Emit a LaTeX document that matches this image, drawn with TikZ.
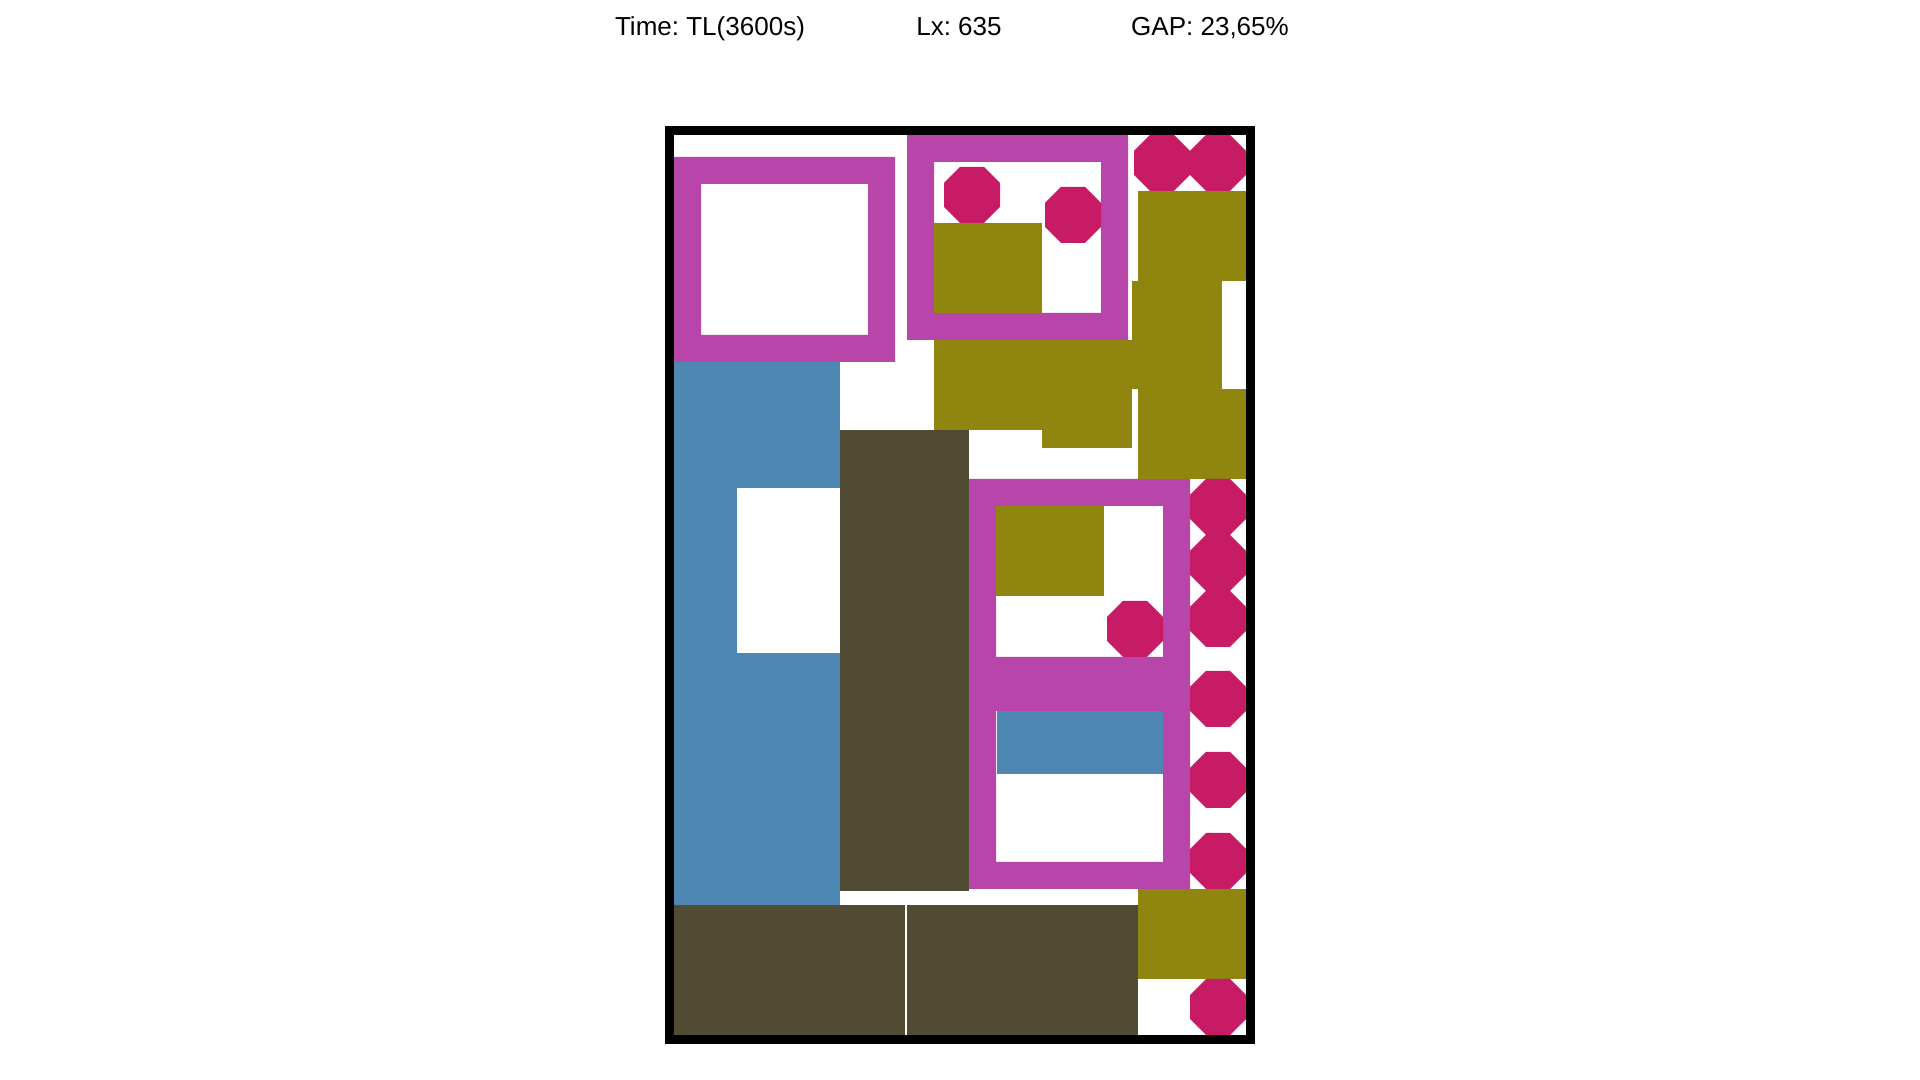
\documentclass[tikz,border=0pt]{standalone}
\usepackage{fontspec}
\setmainfont{Liberation Sans}
\usepackage{tikz}
\usetikzlibrary{positioning}
\frenchspacing

\definecolor{framec}{HTML}{B846AA}
\definecolor{octac}{HTML}{C71B65}
\definecolor{olivec}{HTML}{8F850F}
\definecolor{bluec}{HTML}{4F87B3}
\definecolor{brownc}{HTML}{514B34}

% octagon, top left corner at (#1,#2), 56 wide
\newcommand{\octa}[2]{%
  \fill[octa] (#1+16,#2) -- (#1+40,#2) -- (#1+56,#2+16) -- (#1+56,#2+40)
    -- (#1+40,#2+56) -- (#1+16,#2+56) -- (#1,#2+40) -- (#1,#2+16) -- cycle;}
% hollow frame, top left corner at (#1,#2)
\newcommand{\frameat}[2]{%
  \fill[frm] (#1,#2) rectangle (#1+221,#2+205) (#1+27,#2+27) rectangle (#1+194,#2+178);}

\begin{document}
\begin{tikzpicture}[
    x=0.01cm, y=-0.01cm,
    octa/.style={fill=octac},
    frm/.style={fill=framec, even odd rule},
    olive/.style={fill=olivec},
    blue/.style={fill=bluec},
    brown/.style={fill=brownc},
    label/.style={anchor=base, font=\fontsize{7.4pt}{9pt}\selectfont},
]
    \useasboundingbox (0,0) rectangle (1920,1080);

    % Header
    \node[label] (time) at (710,36) {Time: TL(3600s)};
    \node[label] (lx) at (959,36) {Lx: 635};
    \node[label] (gap) at (1210,36) {GAP: 23,65\%};

    % Frames
    \frameat{674}{157}
    \frameat{907}{135}
    \frameat{969}{479}
    \frameat{969}{684}

    % Blue pieces
    \fill[blue] (674,362) rectangle (840,488);
    \fill[blue] (674,488) rectangle (737,653);
    \fill[blue] (674,653) rectangle (840,905);
    \fill[blue] (997,711) rectangle (1163,774);

    % Brown pieces
    \fill[brown] (840,430) rectangle (969,661);
    \fill[brown] (840,661) rectangle (969,891);
    \fill[brown] (674,905) rectangle (905,1035);
    \fill[brown] (907,905) rectangle (1138,1035);

    % Olive pieces
    \fill[olive] (934,223) rectangle (1042,313);
    \fill[olive] (1138,191) rectangle (1246,281);
    \fill[olive] (1132,281) rectangle (1222,389);
    \fill[olive] (934,340) rectangle (1042,430);
    \fill[olive] (1042,340) rectangle (1132,448);
    \fill[olive] (1138,389) rectangle (1246,479);
    \fill[olive] (996,506) rectangle (1104,596);
    \fill[olive] (1138,889) rectangle (1246,979);

    % Octagons
    \octa{944}{167}
    \octa{1045}{187}
    \octa{1134}{135}
    \octa{1190}{135}
    \octa{1107}{601}
    \foreach \yy in {479,535,591,671,752,833,979}{
        \octa{1190}{\yy}
    }

    % Container
    \draw[line width=0.09cm] (669.5,130.5) rectangle (1250.5,1039.5);
\end{tikzpicture}
\end{document}
